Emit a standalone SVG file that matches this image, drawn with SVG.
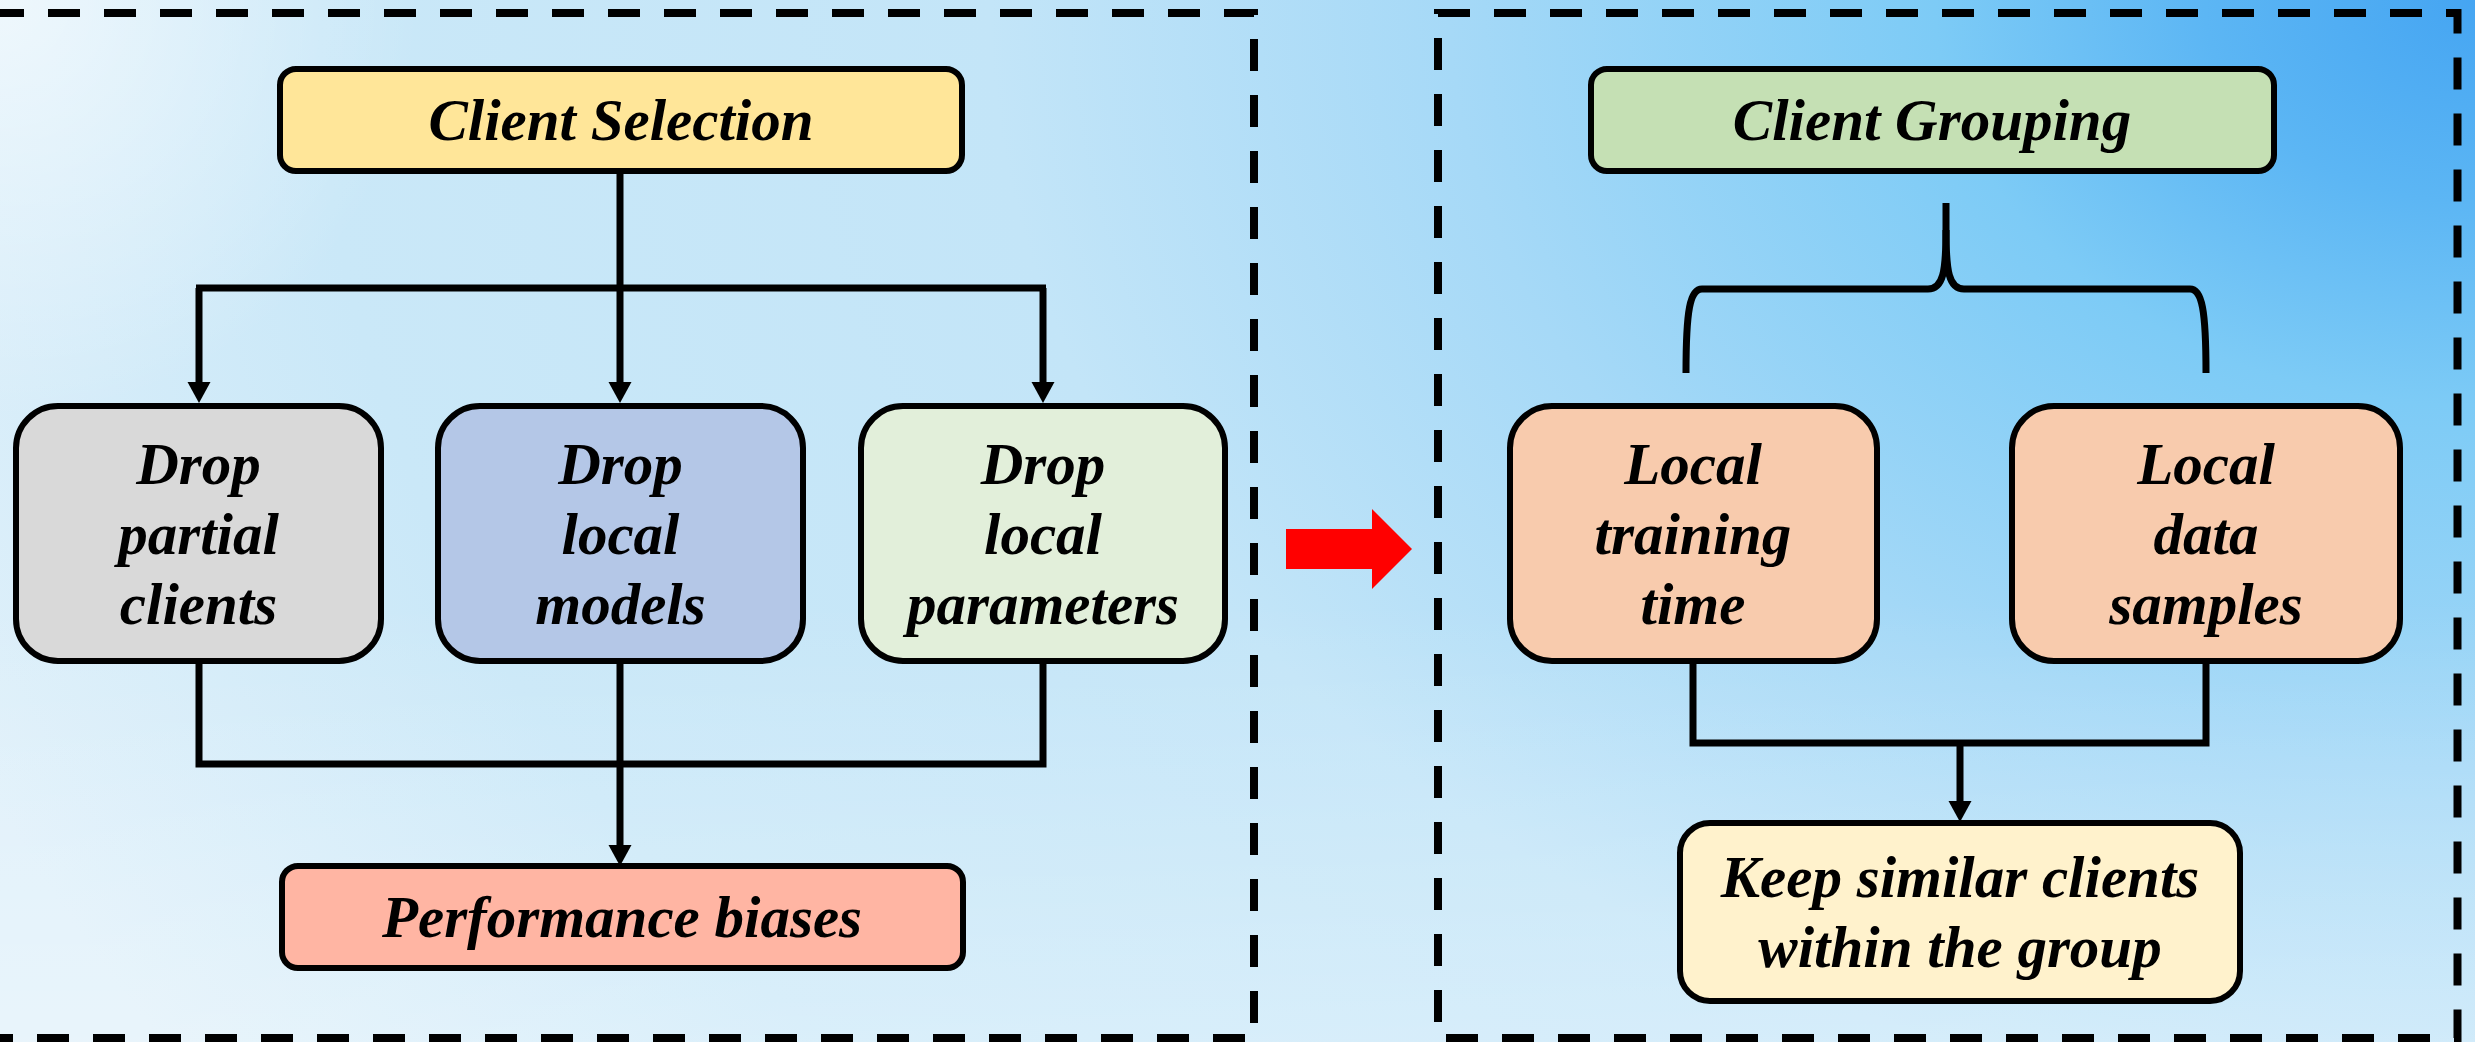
<svg xmlns="http://www.w3.org/2000/svg" width="2475" height="1042" viewBox="0 0 2475 1042">
  <defs>
    <radialGradient id="bg" gradientUnits="userSpaceOnUse" cx="2475" cy="0" r="2700" gradientTransform="translate(0,0) scale(1,0.75)">
      <stop offset="0" stop-color="#45a5f2"/>
      <stop offset="0.1" stop-color="#5cb6f4"/>
      <stop offset="0.2" stop-color="#7dcbf6"/>
      <stop offset="0.38" stop-color="#a6d9f7"/>
      <stop offset="0.55" stop-color="#c3e5f8"/>
      <stop offset="0.8" stop-color="#cae8f8"/>
      <stop offset="1" stop-color="#dff0fa"/>
    </radialGradient>
    <linearGradient id="floor" gradientUnits="userSpaceOnUse" x1="0" y1="1042" x2="0" y2="600">
      <stop offset="0" stop-color="#ffffff" stop-opacity="0.3"/>
      <stop offset="1" stop-color="#ffffff" stop-opacity="0"/>
    </linearGradient>
    <radialGradient id="sheen" gradientUnits="userSpaceOnUse" cx="0" cy="0" r="420">
      <stop offset="0" stop-color="#ffffff" stop-opacity="0.6"/>
      <stop offset="1" stop-color="#ffffff" stop-opacity="0"/>
    </radialGradient>
    <marker id="arrow" markerUnits="userSpaceOnUse" markerWidth="22" markerHeight="24" refX="0" refY="11.5" orient="auto">
      <path d="M0,0 L21,11.5 L0,23 Z" fill="#000"/>
    </marker>
    <style>
      .panel { fill: none; stroke: #000; stroke-width: 8; stroke-dasharray: 32 24; }
      .box { stroke: #000; stroke-width: 6; }
      .lbl { font-family: "Liberation Serif", "Times New Roman", serif; font-weight: bold; font-style: italic; font-size: 59px; fill: #000; text-anchor: middle; }
      .wire { fill: none; stroke: #000; stroke-width: 7; }
    </style>
  </defs>

  <!-- background -->
  <rect x="0" y="0" width="2475" height="1042" fill="url(#bg)"/>
  <rect x="0" y="0" width="2475" height="1042" fill="url(#floor)"/>
  <rect x="0" y="0" width="2475" height="1042" fill="url(#sheen)"/>

  <!-- dashed panels -->
  <rect class="panel" x="-8" y="13" width="1262" height="1025"/>
  <rect class="panel" x="1438" y="13" width="1019.5" height="1025"/>

  <!-- transition arrow -->
  <polygon points="1286,529 1372,529 1372,509 1412,549 1372,589 1372,569 1286,569" fill="#ff0000"/>

  <!-- connectors -->
  <g id="connectors">
    <path class="wire" d="M620,172 V288"/>
    <path class="wire" d="M196,288 H1046"/>
    <path class="wire" d="M199,288 V382" marker-end="url(#arrow)"/>
    <path class="wire" d="M620,288 V382" marker-end="url(#arrow)"/>
    <path class="wire" d="M1043,288 V382" marker-end="url(#arrow)"/>
    <path class="wire" d="M199,661 V764 H1043 V661"/>
    <path class="wire" d="M620,661 V845" marker-end="url(#arrow)"/>
    <path class="wire" d="M1946,203 V230 C1946,272 1943,289 1928,289 H1702 C1690,289 1686,310 1686,373"/>
    <path class="wire" d="M1946,230 C1946,272 1949,289 1964,289 H2190 C2202,289 2206,310 2206,373"/>
    <path class="wire" d="M1693,661 V743 H2206 V661"/>
    <path class="wire" d="M1960,743 V801" marker-end="url(#arrow)"/>
  </g>

  <!-- nodes -->
  <g id="client-selection">
    <rect class="box" x="280" y="69" width="682" height="102" rx="16" fill="#ffe699"/>
    <text class="lbl" x="621" y="140">Client Selection</text>
  </g>
  <g id="drop-partial-clients">
    <rect class="box" x="16" y="406" width="365" height="255" rx="42" fill="#d9d9d9"/>
    <text class="lbl" x="198.5" y="484">Drop</text>
    <text class="lbl" x="198.5" y="554">partial</text>
    <text class="lbl" x="198.5" y="624">clients</text>
  </g>
  <g id="drop-local-models">
    <rect class="box" x="438" y="406" width="365" height="255" rx="42" fill="#b4c7e7"/>
    <text class="lbl" x="620.5" y="484">Drop</text>
    <text class="lbl" x="620.5" y="554">local</text>
    <text class="lbl" x="620.5" y="624">models</text>
  </g>
  <g id="drop-local-parameters">
    <rect class="box" x="861" y="406" width="364" height="255" rx="42" fill="#e2efda"/>
    <text class="lbl" x="1043" y="484">Drop</text>
    <text class="lbl" x="1043" y="554">local</text>
    <text class="lbl" x="1043" y="624">parameters</text>
  </g>
  <g id="performance-biases">
    <rect class="box" x="282" y="866" width="681" height="102" rx="16" fill="#ffb5a3"/>
    <text class="lbl" x="622" y="937">Performance biases</text>
  </g>
  <g id="client-grouping">
    <rect class="box" x="1591" y="69" width="683" height="102" rx="16" fill="#c5e0b4"/>
    <text class="lbl" x="1932" y="140">Client Grouping</text>
  </g>
  <g id="local-training-time">
    <rect class="box" x="1510" y="406" width="367" height="255" rx="42" fill="#f8cbad"/>
    <text class="lbl" x="1693" y="484">Local</text>
    <text class="lbl" x="1693" y="554">training</text>
    <text class="lbl" x="1693" y="624">time</text>
  </g>
  <g id="local-data-samples">
    <rect class="box" x="2012" y="406" width="388" height="255" rx="42" fill="#f8cbad"/>
    <text class="lbl" x="2206" y="484">Local</text>
    <text class="lbl" x="2206" y="554">data</text>
    <text class="lbl" x="2206" y="624">samples</text>
  </g>
  <g id="keep-similar-clients">
    <rect class="box" x="1680" y="823" width="560" height="178" rx="30" fill="#fff2cc"/>
    <text class="lbl" x="1960" y="897">Keep similar clients</text>
    <text class="lbl" x="1960" y="967">within the group</text>
  </g>
</svg>
